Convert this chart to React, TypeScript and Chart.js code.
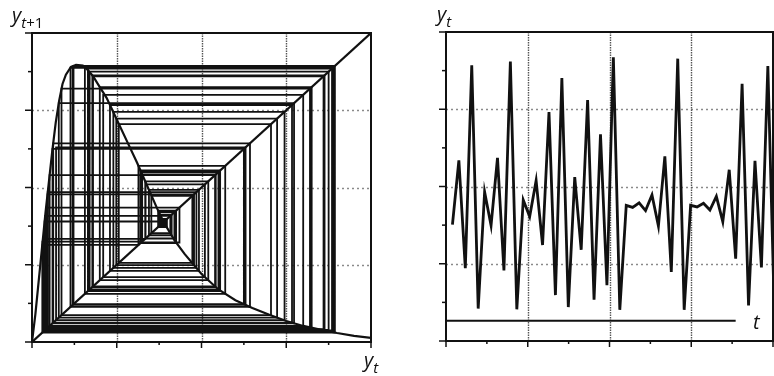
import { useEffect, useRef } from "react";
import { Chart, registerables } from "chart.js";

Chart.register(...registerables);

// Earlier part of the run: used only in the return-map (cobweb) panel
const earlierSeries = [
  0.386, 0.394, 0.378, 0.412, 0.345, 0.4925, 0.23, 0.767, 0.0626, 0.643,
  0.1135, 0.8875, 0.0322, 0.334, 0.52, 0.2, 0.825, 0.0458, 0.478, 0.2486,
  0.723, 0.079, 0.773, 0.0606, 0.625, 0.1225, 0.8935, 0.0304, 0.314, 0.57,
  0.156, 0.89, 0.031,
];

// Population series y_t, one value per time step (plotted against t)
const ySeries = [
  0.325, 0.542, 0.178, 0.863, 0.0415, 0.435, 0.322, 0.55, 0.17, 0.875,
  0.039, 0.408, 0.352, 0.473, 0.256, 0.705, 0.087, 0.82, 0.0465, 0.485,
  0.24, 0.745, 0.071, 0.63, 0.12, 0.89, 0.0373, 0.39, 0.383, 0.398,
  0.372, 0.425, 0.32, 0.555, 0.165, 0.885, 0.0373, 0.39, 0.3846, 0.397,
  0.374, 0.42, 0.335, 0.51, 0.21, 0.8, 0.052, 0.54, 0.18, 0.86, 0.038,
];
const timeSteps = ySeries.map((_, i) => i + 1);

// Hump-shaped return map y_{t+1} = f(y_t)
const curveX = [
  0, 0.01, 0.02, 0.03, 0.04, 0.05, 0.06, 0.07, 0.08, 0.09, 0.1, 0.115, 0.13,
  0.15, 0.165, 0.18, 0.2, 0.22, 0.25, 0.28, 0.31, 0.34, 0.37, 0.39, 0.42,
  0.45, 0.5, 0.55, 0.6, 0.65, 0.7, 0.75, 0.8, 0.85, 0.9, 0.95, 1,
];
const curveY = [
  0, 0.09, 0.2, 0.31, 0.42, 0.52, 0.62, 0.71, 0.78, 0.835, 0.865, 0.89, 0.897,
  0.895, 0.88, 0.86, 0.825, 0.79, 0.72, 0.65, 0.58, 0.505, 0.43, 0.385, 0.33,
  0.285, 0.22, 0.17, 0.135, 0.11, 0.088, 0.068, 0.052, 0.04, 0.029, 0.02, 0.013,
];

// 45 degree line y_{t+1} = y_t
const diagonalX = [0, 1];
const diagonalY = [0, 1];

// Time axis drawn inside the series panel
const timeAxisT = [0, 45];
const timeAxisY = [0, 0];

const PHASE_MIN = 0;
const PHASE_MAX = 1;
const SERIES_Y_MIN = -0.068;
const SERIES_Y_MAX = 0.975;
const SERIES_T_MIN = 0;
const SERIES_T_MAX = 50.8;

const FONT = '"Open Sans", "DejaVu Sans", sans-serif';

type SubPart = [string, boolean];
type AxisLabel = { x: number; y: number; main: string; sub: SubPart[] };

// staircase path: (y0,y0) -> (y0,y1) -> (y1,y1) -> (y1,y2) -> ...
function cobwebPoints(series: number[]) {
  const pts: { x: number; y: number }[] = [{ x: series[0], y: series[0] }];
  for (let i = 0; i < series.length - 1; i++) {
    pts.push({ x: series[i], y: series[i + 1] });
    pts.push({ x: series[i + 1], y: series[i + 1] });
  }
  return pts;
}

function zip(xs: number[], ys: number[]) {
  return xs.map((x, i) => ({ x, y: ys[i] }));
}

function drawLabel(ctx: CanvasRenderingContext2D, l: AxisLabel) {
  ctx.fillStyle = "#111";
  ctx.textBaseline = "alphabetic";
  ctx.textAlign = "left";
  ctx.font = `italic 20px ${FONT}`;
  ctx.fillText(l.main, l.x, l.y);
  let cx = l.x + ctx.measureText(l.main).width;
  for (const [txt, italic] of l.sub) {
    ctx.font = `${italic ? "italic " : ""}15px ${FONT}`;
    ctx.fillText(txt, cx, l.y + 6);
    cx += ctx.measureText(txt).width;
  }
}

// dotted grid, heavy frame, outside ticks and axis symbols
function panelDecor(labels: AxisLabel[]) {
  return {
    id: "panelDecor",
    beforeDatasetsDraw(chart: any) {
      const { ctx, chartArea: a, scales } = chart;
      const xs = scales.x;
      const ys = scales.y;
      ctx.save();
      ctx.lineWidth = 1.6;
      ctx.strokeStyle = "#8a8a8a";
      ctx.setLineDash([2, 3]);
      for (let k = 1; k < 4; k++) {
        const py = Math.round(ys.getPixelForValue(ys.min + ((ys.max - ys.min) * k) / 4)) + 0.5;
        ctx.beginPath();
        ctx.moveTo(a.left, py);
        ctx.lineTo(a.right, py);
        ctx.stroke();
      }
      ctx.lineWidth = 1.4;
      ctx.strokeStyle = "#555";
      ctx.setLineDash([1.5, 1]);
      for (let k = 1; k < 4; k++) {
        const px = Math.round(xs.getPixelForValue(xs.min + ((xs.max - xs.min) * k) / 4)) + 0.5;
        ctx.beginPath();
        ctx.moveTo(px, a.top);
        ctx.lineTo(px, a.bottom);
        ctx.stroke();
      }
      ctx.restore();
    },
    afterDatasetsDraw(chart: any) {
      const { ctx, chartArea: a, scales } = chart;
      const xs = scales.x;
      const ys = scales.y;
      ctx.save();
      ctx.setLineDash([]);
      ctx.strokeStyle = "#111";
      ctx.lineWidth = 2;
      ctx.strokeRect(a.left, a.top, a.right - a.left, a.bottom - a.top);
      ctx.lineWidth = 1.5;
      for (let k = 0; k <= 8; k++) {
        const py = ys.getPixelForValue(ys.min + ((ys.max - ys.min) * k) / 8);
        const len = k % 2 === 0 ? 7 : 4;
        ctx.beginPath();
        ctx.moveTo(a.left - len, py);
        ctx.lineTo(a.left, py);
        ctx.stroke();
        const px = xs.getPixelForValue(xs.min + ((xs.max - xs.min) * k) / 8);
        const tl = k % 2 === 0 ? 6 : 3;
        ctx.beginPath();
        ctx.moveTo(px, a.bottom);
        ctx.lineTo(px, a.bottom + tl);
        ctx.stroke();
      }
      for (const l of labels) drawLabel(ctx, l);
      ctx.restore();
    },
  };
}

const lineStyle = {
  showLine: true,
  pointRadius: 0,
  borderColor: "#111",
  tension: 0,
  fill: false,
};

export default function App() {
  const leftRef = useRef<HTMLCanvasElement>(null);
  const rightRef = useRef<HTMLCanvasElement>(null);

  useEffect(() => {
    const phase = new Chart(leftRef.current!, {
      type: "scatter",
      data: {
        datasets: [
          {
            ...lineStyle,
            data: cobwebPoints(earlierSeries.concat(ySeries)),
            borderWidth: 1.8,
          },
          { ...lineStyle, data: zip(curveX, curveY), borderWidth: 2.2 },
          { ...lineStyle, data: zip(diagonalX, diagonalY), borderWidth: 2.2 },
        ],
      },
      options: {
        responsive: false,
        animation: false,
        layout: { padding: { left: 32, top: 33, right: 29, bottom: 34 } },
        plugins: { legend: { display: false }, tooltip: { enabled: false } },
        scales: {
          x: { type: "linear", min: PHASE_MIN, max: PHASE_MAX, display: false },
          y: { type: "linear", min: PHASE_MIN, max: PHASE_MAX, display: false },
        },
      },
      plugins: [
        panelDecor([
          { x: 12, y: 22, main: "y", sub: [["t", true], ["+1", false]] },
          { x: 364, y: 367, main: "y", sub: [["t", true]] },
        ]),
      ],
    });

    const series = new Chart(rightRef.current!, {
      type: "scatter",
      data: {
        datasets: [
          { ...lineStyle, data: zip(timeAxisT, timeAxisY), borderWidth: 2 },
          { ...lineStyle, data: zip(timeSteps, ySeries), borderWidth: 2.8 },
        ],
      },
      options: {
        responsive: false,
        animation: false,
        layout: { padding: { left: 46, top: 32, right: 1, bottom: 35 } },
        plugins: { legend: { display: false }, tooltip: { enabled: false } },
        scales: {
          x: { type: "linear", min: SERIES_T_MIN, max: SERIES_T_MAX, display: false },
          y: { type: "linear", min: SERIES_Y_MIN, max: SERIES_Y_MAX, display: false },
        },
      },
      plugins: [
        panelDecor([
          { x: 37, y: 21, main: "y", sub: [["t", true]] },
          { x: 353, y: 329, main: "t", sub: [] },
        ]),
      ],
    });

    return () => {
      phase.destroy();
      series.destroy();
    };
  }, []);

  return (
    <div
      style={{
        position: "absolute",
        left: 0,
        top: 0,
        width: 774,
        height: 376,
        background: "#fff",
        overflow: "hidden",
      }}
    >
      <canvas ref={leftRef} width={400} height={376} style={{ position: "absolute", left: 0, top: 0 }} />
      <canvas ref={rightRef} width={374} height={376} style={{ position: "absolute", left: 400, top: 0 }} />
    </div>
  );
}
